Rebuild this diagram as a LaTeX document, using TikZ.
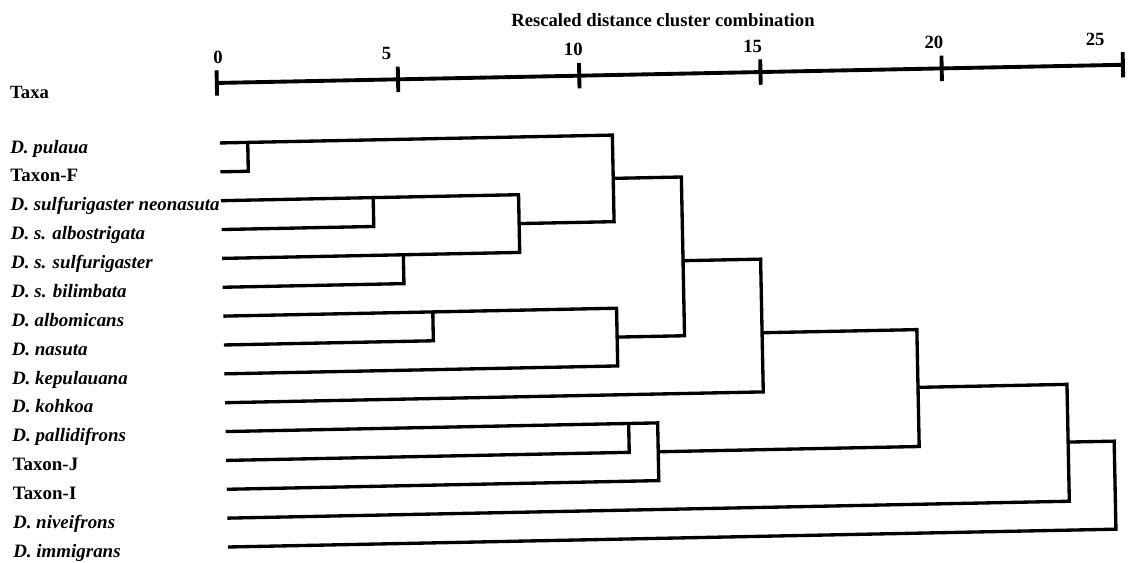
\documentclass[tikz,border=0pt]{standalone}
\usepackage{fontspec}
\setmainfont{Liberation Serif}
\usepackage{tikz}

\begin{document}
\begin{tikzpicture}[x=27.19pt, y=-21.65pt,
    taxon/.style={anchor=mid west, inner sep=0pt, font=\fontsize{14.2}{17}\selectfont\bfseries\itshape},
    taxonup/.style={taxon, font=\fontsize{14.2}{17}\selectfont\bfseries},
    scalenum/.style={inner sep=0pt, font=\fontsize{14}{17}\selectfont\bfseries},
    branch/.style={line width=2.5pt},
    axisline/.style={line width=2.9pt}]
    \useasboundingbox (-163.5pt,107.25pt) rectangle (690pt,-315pt);
  \begin{scope}[rotate=1.15]
    % scale
    \node[scalenum] (title) at (12.34,-3.95) {Rescaled distance cluster combination};
    \node[scalenum, anchor=west] (taxa) at (-5.71,-1.9) {Taxa};
    \draw[axisline] (0,-2.08) -- (25,-2.08);
    \foreach \t/\p in {0/0.05, 5/4.7, 10/9.85, 15/14.8, 20/19.8, 25/24.25} {
      \draw[axisline] (\t,-2.52) -- (\t,-1.64);
      \node[scalenum] (num\t) at (\p,-2.98) {\t};
    }
    % taxa
    \node[taxon] (pulaua) at (-5.74,0.1) {D. pulaua};
    \node[taxonup] (taxonF) at (-5.75,1.1) {Taxon-F};
    \node[taxon] (neonasuta) at (-5.76,2.1) {D. sulfurigaster neonasuta};
    \node[taxon] (albostrigata) at (-5.77,3.1) {D. s. albostrigata};
    \node[taxon] (sulfurigaster) at (-5.78,4.1) {D. s. sulfurigaster};
    \node[taxon] (bilimbata) at (-5.79,5.1) {D. s. bilimbata};
    \node[taxon] (albomicans) at (-5.8,6.1) {D. albomicans};
    \node[taxon] (nasuta) at (-5.81,7.1) {D. nasuta};
    \node[taxon] (kepulauana) at (-5.82,8.1) {D. kepulauana};
    \node[taxon] (kohkoa) at (-5.83,9.1) {D. kohkoa};
    \node[taxon] (pallidifrons) at (-5.84,10.1) {D. pallidifrons};
    \node[taxonup] (taxonJ) at (-5.85,11.1) {Taxon-J};
    \node[taxonup] (taxonI) at (-5.86,12.1) {Taxon-I};
    \node[taxon] (niveifrons) at (-5.87,13.1) {D. niveifrons};
    \node[taxon] (immigrans) at (-5.88,14.1) {D. immigrans};
    % dendrogram
    \draw[branch] (0.05,1) -- (0.82,1) -- (0.82,0);
    \draw[branch] (0.05,3) -- (4.25,3) -- (4.25,2);
    \draw[branch] (0.05,5) -- (5.05,5) -- (5.05,4);
    \draw[branch] (0.05,2) -- (8.26,2) -- (8.26,4) -- (0.05,4);
    \draw[branch] (0.05,0) -- (10.88,0) -- (10.88,3) -- (8.26,3);
    \draw[branch] (0.05,7) -- (5.83,7) -- (5.83,6);
    \draw[branch] (0.05,6) -- (10.9,6) -- (10.9,8) -- (0.05,8);
    \draw[branch] (10.88,1.5) -- (12.76,1.5) -- (12.76,7) -- (10.9,7);
    \draw[branch] (12.76,4.4) -- (14.9,4.4) -- (14.9,9) -- (0.05,9);
    \draw[branch] (0.05,11) -- (11.17,11) -- (11.17,10);
    \draw[branch] (0.05,10) -- (11.97,10) -- (11.97,12) -- (0.05,12);
    \draw[branch] (14.9,6.95) -- (19.17,6.95) -- (19.17,11) -- (11.97,11);
    \draw[branch] (19.17,8.95) -- (23.28,8.95) -- (23.28,13) -- (0.05,13);
    \draw[branch] (23.28,10.95) -- (24.55,10.95) -- (24.55,14) -- (0.05,14);
  \end{scope}
\end{tikzpicture}
\end{document}
